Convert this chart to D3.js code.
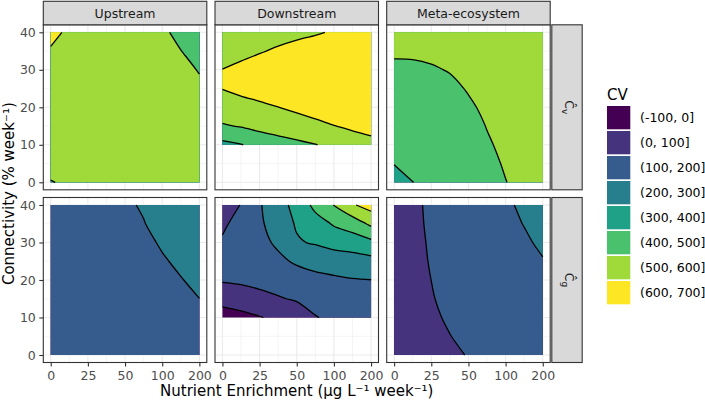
<!DOCTYPE html>
<html>
<head>
<meta charset="utf-8">
<script src="https://cdn.jsdelivr.net/npm/d3@7"></script>
<style>
  body { margin: 0; background: #fff; }
  text { font-family: "DejaVu Sans", sans-serif; }
</style>
</head>
<body>
<script>
// facet labels
var columns = ["Upstream", "Downstream", "Meta-ecosystem"];
var rowSubs = ["v", "g"];

// axis ticks (x axis is evenly spaced on these levels)
var xTicks = [0, 25, 50, 100, 200];
var yTicks = [0, 10, 20, 30, 40];

var xGrid = [0, 12.5, 25, 37.5, 50, 75, 100, 150, 200];
var yGridFull = [0, 5, 10, 15, 20, 25, 30, 35, 40];
var yGridDown = [10, 15, 20, 25, 30, 35, 40];

// legend bins
var bandLabels = ["(-100, 0]", "(0, 100]", "(100, 200]", "(200, 300]", "(300, 400]", "(400, 500]", "(500, 600]", "(600, 700]"];
var bandBreaks = [-100, 0, 100, 200, 300, 400, 500, 600];
var bandColors = ["#440154", "#46337E", "#365C8D", "#277F8E", "#1FA187", "#4AC16D", "#9FDA3A", "#FDE725"];

// CV surfaces, one row per connectivity level (lowest first)
var upstreamCv = [
  [495, 516, 530, 537, 540, 540, 539, 537, 535],
  [537, 543, 545, 545, 544, 542, 540, 537, 534],
  [550, 550, 550, 548, 546, 543, 540, 536, 532],
  [558, 557, 555, 552, 548, 544, 539, 534, 527],
  [565, 563, 560, 555, 550, 544, 537, 530, 520],
  [575, 570, 565, 558, 550, 542, 533, 523, 510],
  [585, 578, 570, 560, 550, 540, 528, 515, 497],
  [596, 585, 575, 562, 550, 538, 520, 501, 480],
  [612, 592, 580, 565, 550, 535, 510, 485, 460]
];
var downstreamCv = [
  [374.6, 396, 429.3, 450, 473.9, 497.4, 519.1, 573.8, 577],
  [490, 506.6, 530.3, 554.2, 574.3, 584.7, 598.5, 609.2, 625],
  [561.4, 577.5, 586.8, 599.3, 611, 625, 636, 645, 655],
  [601.6, 615, 628, 638, 648, 655, 665, 672, 678],
  [600.5, 614, 628, 640, 652, 660, 668, 675, 682],
  [585, 583.6, 595.4, 608.2, 620, 630, 645, 655, 665],
  [568, 568, 574, 576.7, 585.5, 594.3, 605.3, 622, 638]
];
var metaCv = [
  [370, 399, 420, 440, 460, 485, 499.1, 511, 525],
  [402, 425, 442, 458, 474, 490.5, 503.5, 516, 530],
  [430, 445, 458, 470, 479.4, 495.9, 508, 521, 534],
  [450, 460, 469, 478, 487, 501.3, 512, 525, 538],
  [466, 472, 477, 481.8, 494.9, 506.7, 517, 529, 541],
  [479.3, 479.8, 484, 492, 502.6, 512, 522, 533, 545],
  [492.4, 492.9, 496.3, 502, 510.4, 518, 527, 537, 548],
  [505.5, 506, 508.7, 512, 518, 525, 533, 542, 552],
  [518.6, 519, 521, 524, 528, 533, 540, 548, 557]
];
var upstreamCg = [
  [132, 135, 138, 142, 147, 153, 160, 167, 175],
  [135, 139, 143, 147, 152, 158, 166, 174, 183],
  [139, 143, 148, 153, 158, 164, 172, 182, 191],
  [143, 147, 152, 158, 164, 170, 179, 190, 199.8],
  [147, 151, 157, 163, 170, 176, 187, 198, 210.5],
  [150, 155, 161, 168, 175, 182, 195.4, 208.2, 221],
  [153, 159, 165, 173, 181, 189.4, 205, 218, 231],
  [157, 163, 170, 178, 187, 198.5, 213, 228, 241],
  [160, 167, 175, 184, 194, 204, 222, 237, 250]
];
var downstreamCg = [
  [-40, -25, -5, 20, 45, 95, 120, 140, 155],
  [30, 45, 70, 92, 110, 135, 150, 165, 178],
  [110, 118, 130, 140, 165, 180, 185, 195, 199],
  [125, 140, 165, 185, 210, 225, 245, 255, 270],
  [108, 140, 180, 212, 290, 310, 335, 350, 375],
  [88, 125, 185, 245, 310, 355, 410, 445, 520],
  [70, 102, 190, 270, 325, 429, 502, 590, 640]
];
var metaCg = [
  [40, 58, 76, 91, 102.25, 114, 127, 140, 152],
  [45, 64, 84, 99, 111.5, 124, 138, 151, 163],
  [50, 70, 92, 106.3, 122, 134, 149, 162, 173],
  [55, 76, 96.5, 114, 131, 143, 158, 171, 182],
  [60, 83, 100.2, 121, 139, 151, 166, 179, 190],
  [65, 86.5, 103, 127, 146, 158, 173, 186, 197.3],
  [70, 89, 104.5, 132, 152, 165, 180, 192.7, 208.6],
  [74, 91, 106, 136, 158, 172, 186, 201.6, 217],
  [78, 92, 107, 140, 164, 180, 192, 209, 225]
];

var panels = [
  {row: 0, col: 0, z: upstreamCv, yGrid: yGridFull},
  {row: 0, col: 1, z: downstreamCv, yGrid: yGridDown},
  {row: 0, col: 2, z: metaCv, yGrid: yGridFull},
  {row: 1, col: 0, z: upstreamCg, yGrid: yGridFull},
  {row: 1, col: 1, z: downstreamCg, yGrid: yGridDown},
  {row: 1, col: 2, z: metaCg, yGrid: yGridFull}
];

// layout
var colX = [43.3, 215.0, 386.7];
var rowY = [24.8, 197.5];
var panelW = 163.5, panelH = 165;
var stripH = 23.5, stripW = 30.4;

var svg = d3.select("body").append("svg")
    .attr("width", 705)
    .attr("height", 401);

function clamp(v, lo, hi) { return Math.max(lo, Math.min(hi, v)); }

// fractional grid index -> data value
function fromIdx(grid, idx) {
  var i0 = Math.floor(idx);
  if (i0 >= grid.length - 1) return grid[grid.length - 1];
  return grid[i0] + (grid[i0 + 1] - grid[i0]) * (idx - i0);
}

var isoCurve = d3.line().curve(d3.curveCatmullRom.alpha(0.5));
var isoClosed = d3.line().curve(d3.curveCatmullRomClosed.alpha(0.5));

panels.forEach(function(p) {
  var x0 = colX[p.col], y0 = rowY[p.row];
  var padX = panelW / 1.1 * 0.05, innerW = panelW / 1.1;
  var padY = panelH / 1.1 * 0.05;

  var x = d3.scaleLinear()
      .domain(xTicks)
      .range(xTicks.map(function(d, i) { return x0 + padX + i * innerW / 4; }));
  var y = d3.scaleLinear()
      .domain([0, 40])
      .range([y0 + panelH - padY, y0 + padY]);

  var g = svg.append("g");
  g.append("rect").attr("x", x0).attr("y", y0).attr("width", panelW).attr("height", panelH).attr("fill", "#fff");

  // minor then major grid
  [12.5, 37.5, 75, 150].forEach(function(v) {
    g.append("line").attr("x1", x(v)).attr("x2", x(v)).attr("y1", y0).attr("y2", y0 + panelH)
      .attr("stroke", "#EBEBEB").attr("stroke-width", 0.55);
  });
  [5, 15, 25, 35].forEach(function(v) {
    g.append("line").attr("x1", x0).attr("x2", x0 + panelW).attr("y1", y(v)).attr("y2", y(v))
      .attr("stroke", "#EBEBEB").attr("stroke-width", 0.55);
  });
  xTicks.forEach(function(v) {
    g.append("line").attr("x1", x(v)).attr("x2", x(v)).attr("y1", y0).attr("y2", y0 + panelH)
      .attr("stroke", "#EBEBEB").attr("stroke-width", 1.1);
  });
  yTicks.forEach(function(v) {
    g.append("line").attr("x1", x0).attr("x2", x0 + panelW).attr("y1", y(v)).attr("y2", y(v))
      .attr("stroke", "#EBEBEB").attr("stroke-width", 1.1);
  });

  var nx = xGrid.length, ny = p.yGrid.length;
  var values = [];
  p.z.forEach(function(r) { r.forEach(function(v) { values.push(v); }); });

  var conts = d3.contours().size([nx, ny]).thresholds(bandBreaks)(values);

  function toPx(c) {
    var ix = clamp(c[0] - 0.5, 0, nx - 1), iy = clamp(c[1] - 0.5, 0, ny - 1);
    return [x(fromIdx(xGrid, ix)), y(fromIdx(p.yGrid, iy)), ix, iy];
  }
  function sameEdge(a, b) {
    return (a[2] === 0 && b[2] === 0) || (a[2] === nx - 1 && b[2] === nx - 1) ||
           (a[3] === 0 && b[3] === 0) || (a[3] === ny - 1 && b[3] === ny - 1);
  }

  // one ring -> path string, with the iso parts smoothed and the border parts straight
  function ringPath(ring, isoRuns) {
    var pts = ring.slice(0, -1).map(toPx);
    var n = pts.length;
    var cls = pts.map(function(pt, k) { return sameEdge(pt, pts[(k + 1) % n]); });
    var s = -1;
    for (var k = 0; k < n; k++) {
      if (cls[k] !== cls[(k - 1 + n) % n]) { s = k; break; }
    }
    if (s < 0) {
      if (cls[0]) return "M" + pts.map(function(q) { return q[0] + "," + q[1]; }).join("L") + "Z";
      var all = pts.map(function(q) { return [q[0], q[1]]; });
      isoRuns.push({closed: true, pts: all});
      return isoClosed(all);
    }
    var d = "M" + pts[s][0] + "," + pts[s][1];
    var j = 0;
    while (j < n) {
      var c = cls[(s + j) % n];
      var run = [[pts[(s + j) % n][0], pts[(s + j) % n][1]]];
      while (j < n && cls[(s + j) % n] === c) {
        var q = pts[(s + j + 1) % n];
        run.push([q[0], q[1]]);
        j++;
      }
      if (c) {
        run.slice(1).forEach(function(q) { d += "L" + q[0] + "," + q[1]; });
      } else {
        isoRuns.push({closed: false, pts: run});
        d += isoCurve(run).replace(/^M/, "L");
      }
    }
    return d + "Z";
  }

  var allRuns = [];
  conts.forEach(function(c, i) {
    var runs = [];
    var d = "";
    c.coordinates.forEach(function(poly) {
      poly.forEach(function(ring) { d += ringPath(ring, runs); });
    });
    g.append("path").attr("d", d).attr("fill", bandColors[i]).attr("fill-rule", "evenodd").attr("stroke", "none");
    if (i > 0) allRuns = allRuns.concat(runs);
  });

  allRuns.forEach(function(r) {
    g.append("path").attr("d", r.closed ? isoClosed(r.pts) : isoCurve(r.pts))
      .attr("fill", "none").attr("stroke", "#000").attr("stroke-width", 1.3);
  });

  g.append("rect").attr("x", x0).attr("y", y0).attr("width", panelW).attr("height", panelH)
    .attr("fill", "none").attr("stroke", "#333333").attr("stroke-width", 1.1);

  // axes
  if (p.col === 0) {
    var ya = svg.append("g").attr("transform", "translate(" + x0 + ",0)")
        .call(d3.axisLeft(y).tickValues(yTicks).tickSize(4).tickPadding(3.5));
    ya.select(".domain").remove();
    ya.selectAll("line").attr("stroke", "#333333").attr("stroke-width", 1.1);
    ya.selectAll("text").attr("fill", "#4D4D4D").style("font-size", "12.5px").style("font-family", "DejaVu Sans");
  }
  if (p.row === 1) {
    var xa = svg.append("g").attr("transform", "translate(0," + (y0 + panelH) + ")")
        .call(d3.axisBottom(x).tickValues(xTicks).tickFormat(d3.format("d")).tickSize(4).tickPadding(4.5));
    xa.select(".domain").remove();
    xa.selectAll("line").attr("stroke", "#333333").attr("stroke-width", 1.1);
    xa.selectAll("text").attr("fill", "#4D4D4D").style("font-size", "12.5px").style("font-family", "DejaVu Sans");
  }
});

// top strips
columns.forEach(function(name, i) {
  svg.append("rect").attr("x", colX[i]).attr("y", rowY[0] - stripH).attr("width", panelW).attr("height", stripH)
    .attr("fill", "#D9D9D9").attr("stroke", "#333333").attr("stroke-width", 1.1);
  svg.append("text").attr("x", colX[i] + panelW / 2).attr("y", rowY[0] - stripH / 2 + 4.5)
    .attr("text-anchor", "middle").attr("fill", "#1A1A1A").style("font-size", "12.5px").text(name);
});

// right strips
rowSubs.forEach(function(sub, i) {
  var sx = colX[2] + panelW + 1.6;
  svg.append("rect").attr("x", sx).attr("y", rowY[i]).attr("width", stripW).attr("height", panelH)
    .attr("fill", "#D9D9D9").attr("stroke", "#333333").attr("stroke-width", 1.1);
  var t = svg.append("text")
      .attr("transform", "translate(" + (sx + stripW / 2) + "," + (rowY[i] + panelH / 2) + ") rotate(90)")
      .attr("text-anchor", "middle").attr("dy", "0.2em").attr("fill", "#1A1A1A").style("font-size", "12.5px");
  t.append("tspan").text("\u0108");
  t.append("tspan").attr("dy", 3).style("font-size", "9px").text(sub);
});

// axis titles
svg.append("text").attr("x", (colX[0] + colX[2] + panelW) / 2).attr("y", 396)
  .attr("text-anchor", "middle").attr("fill", "#000").style("font-size", "15px")
  .text("Nutrient Enrichment (\u00b5g L\u207b\u00b9 week\u207b\u00b9)");
svg.append("text").attr("transform", "translate(14," + ((rowY[0] + rowY[1] + panelH) / 2) + ") rotate(-90)")
  .attr("text-anchor", "middle").attr("fill", "#000").style("font-size", "15px")
  .text("Connectivity (% week\u207b\u00b9)");

// legend
svg.append("text").attr("x", 607).attr("y", 100).attr("fill", "#000").style("font-size", "15px").text("CV");
bandLabels.forEach(function(lab, i) {
  svg.append("rect").attr("x", 607).attr("y", 106 + 25 * i).attr("width", 23.3).attr("height", 23.3)
    .attr("fill", bandColors[i]);
  svg.append("text").attr("x", 640).attr("y", 106 + 25 * i + 11.7 + 4.5)
    .attr("fill", "#000").style("font-size", "12.5px").text(lab);
});
</script>
</body>
</html>
